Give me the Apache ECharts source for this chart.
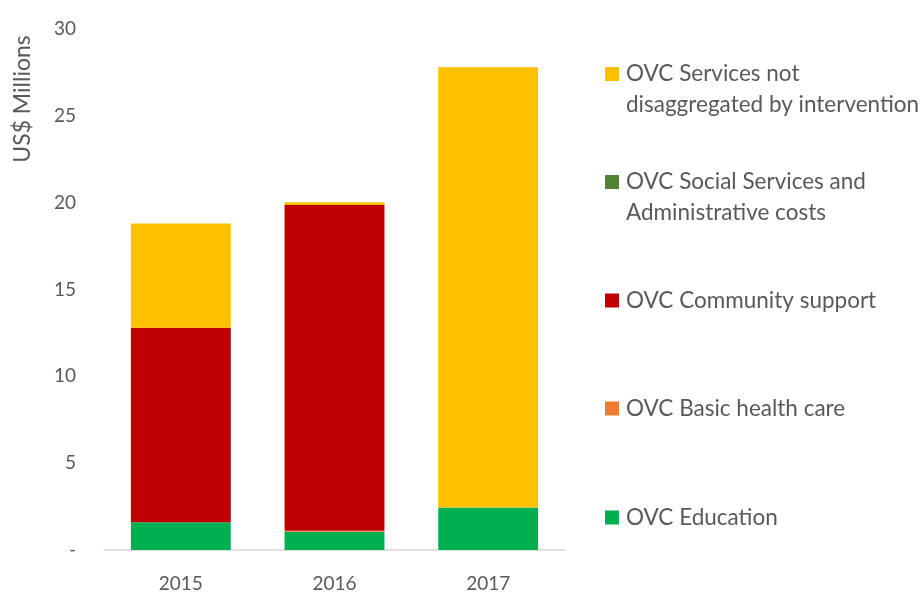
<!DOCTYPE html>
<html>
<head>
<meta charset="utf-8">
<script src="https://cdn.jsdelivr.net/npm/echarts@6/dist/echarts.min.js"></script>
<style>
  html, body { margin: 0; padding: 0; background: #fff; }
  #main { width: 923px; height: 592px; }
</style>
</head>
<body>
<div id="main"></div>
<script>
// data
var years = ['2015', '2016', '2017'];
var education = [1.6, 1.05, 2.45];
var basicHealth = [0, 0.06, 0];
var community = [11.2, 18.75, 0];
var socialAdmin = [0, 0, 0];
var notDisaggregated = [6.0, 0.17, 25.35];
var yTicks = [0, 5, 10, 15, 20, 25, 30];

var names = [
  'OVC Education',
  'OVC Basic health care',
  'OVC Community support',
  'OVC Social Services and Administrative costs',
  'OVC Services not disaggregated by intervention'
];
var colors = ['#00B050', '#ED7D31', '#C00000', '#548235', '#FFC000'];
var values = [education, basicHealth, community, socialAdmin, notDisaggregated];

// legend labels, two lines for the long ones
// (a blank first line keeps the marker level with the first text line)
var legendText = {
  'OVC Services not disaggregated by intervention': ' \nOVC Services not\ndisaggregated by intervention',
  'OVC Social Services and Administrative costs': ' \nOVC Social Services and\nAdministrative costs'
};

var font = 'Lato';
var grey = '#595959';

var chart = echarts.init(document.getElementById('main'));

function makeLegend(name, markerMid, twoLine) {
  var lh = 31;
  return {
    left: 605,
    top: twoLine ? markerMid - 1.5 * lh : markerMid - 7,
    padding: 0,
    orient: 'vertical',
    itemWidth: 14,
    itemHeight: 14,
    icon: 'rect',
    data: [name],
    selectedMode: false,
    formatter: function (n) { return legendText[n] || n; },
    textStyle: {
      fontFamily: font,
      fontSize: 22.5,
      color: grey,
      lineHeight: lh,
      padding: [0, 0, 0, 2]
    }
  };
}

var series = names.map(function (n, i) {
  return {
    name: n,
    type: 'bar',
    stack: 'total',
    barWidth: '65%',
    itemStyle: { color: colors[i] },
    data: values[i]
  };
});

var option = {
  animation: false,
  textStyle: { fontFamily: font },
  grid: { left: 104, right: 358, top: 29, bottom: 42, outerBoundsMode: 'none', containLabel: false },
  legend: [
    makeLegend(names[4], 74, true),
    makeLegend(names[3], 182, true),
    makeLegend(names[2], 292, false),
    makeLegend(names[1], 400, false),
    makeLegend(names[0], 509, false)
  ],
  xAxis: {
    type: 'category',
    data: years,
    axisTick: { show: false },
    axisLine: { lineStyle: { color: '#D9D9D9', width: 1.5 } },
    axisLabel: { color: grey, fontSize: 19, margin: 24, fontFamily: font }
  },
  yAxis: {
    type: 'value',
    min: 0,
    max: 30,
    interval: 5,
    name: 'US$ Millions',
    nameLocation: 'end',
    nameRotate: 90,
    nameGap: -70,
    nameTextStyle: { color: grey, fontSize: 23, fontFamily: font, align: 'center', verticalAlign: 'bottom', padding: [0, 0, 70, 0] },
    splitLine: { show: false },
    axisLine: { show: false },
    axisTick: { show: false },
    axisLabel: {
      color: grey,
      fontSize: 19,
      margin: 28,
      fontFamily: font,
      formatter: function (v) { return v === 0 ? '-' : String(v); }
    }
  },
  series: series
};

chart.setOption(option);
</script>
</body>
</html>
